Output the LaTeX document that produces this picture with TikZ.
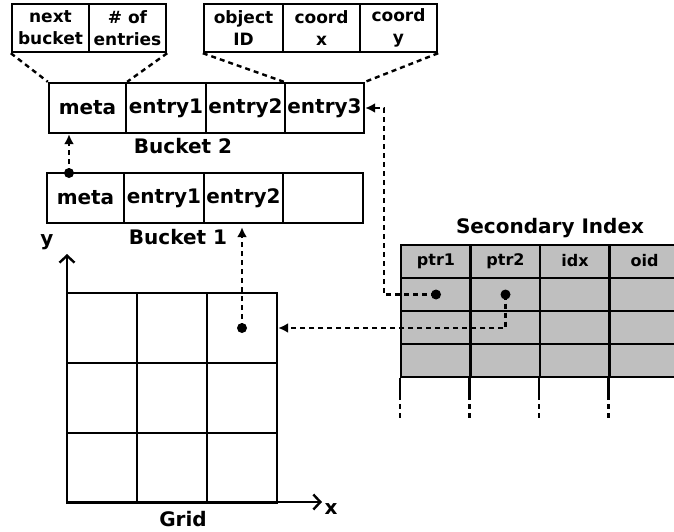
\documentclass[tikz,border=0pt]{standalone}
\usepackage{fontspec}
\setmainfont{DejaVu Sans}
\usetikzlibrary{arrows.meta,calc}
\tikzset{
  big/.style={font=\bfseries\fontsize{20}{22}\selectfont},
  small/.style={font=\bfseries\fontsize{17}{22}\selectfont},
  tsmall/.style={font=\bfseries\fontsize{16}{22}\selectfont},
  cell/.style={draw, line width=2.4pt, inner sep=0pt, big,
    minimum height=50pt},
  hcell/.style={draw, line width=2.4pt, inner sep=0pt, small,
    minimum height=48pt, align=center},
  gcell/.style={draw, line width=2.4pt, minimum width=70pt,
    minimum height=70pt, inner sep=0pt},
  tcell/.style={draw, line width=2.4pt, fill=black!25, minimum width=70pt,
    minimum height=33pt, inner sep=0pt, tsmall},
  link/.style={line width=2.4pt, dash pattern=on 5pt off 4pt,
    -{Latex[length=10pt,width=10pt]}},
  guide/.style={line width=2.4pt, dash pattern=on 5pt off 4pt},
  axis/.style={line width=2.4pt, -{Straight Barb[length=7pt,width=15pt,line width=2.4pt]}},
  dot/.style={fill=black},
}
\begin{document}
\begin{tikzpicture}[x=1pt,y=-1pt]
\useasboundingbox (0,0) rectangle (674,532);
\clip (0,0) rectangle (674,532);

% bucket header fields
\node[hcell, minimum width=77pt] (tl1) at (50.5,28) {next\\bucket};
\node[hcell, minimum width=77pt] (tl2) at (127.5,28) {\# of\\entries};
% entry fields
\node[hcell, minimum width=79pt] (tr1) at (243.5,28) {object\\ID};
\node[hcell, minimum width=77pt] (tr2) at (321.5,28) {coord\\x};
\node[hcell, minimum width=77pt] (tr3) at (398.5,28) {coord\\y};

% Bucket 2
\node[cell, minimum width=77pt] (b2m) at (87.5,108) {meta};
\node[cell, minimum width=80pt] (b2e1) at (166,108) {entry1};
\node[cell, minimum width=79pt] (b2e2) at (245.5,108) {entry2};
\node[cell, minimum width=79pt] (b2e3) at (324.5,108) {entry3};
\node[big] (b2lbl) at (183,146) {Bucket 2};

% Bucket 1
\node[cell, minimum width=77pt] (b1m) at (85.5,198) {meta};
\node[cell, minimum width=80pt] (b1e1) at (164,198) {entry1};
\node[cell, minimum width=79pt] (b1e2) at (243.5,198) {entry2};
\node[cell, minimum width=80pt] (b1e3) at (323,198) {};
\node[big] (b1lbl) at (178,237) {Bucket 1};

% field expansions
\draw[guide] (tl1.south west) -- (b2m.north west);
\draw[guide] (tl2.south east) -- (b2m.north east);
\draw[guide] (tr1.south west) -- (b2e3.north west);
\draw[guide] (tr3.south east) -- (b2e3.north east);

% grid
\foreach \r in {1,2,3}
  \foreach \c in {1,2,3}
    \node[gcell] (g\r\c) at ({32+70*\c},{258+70*\r}) {};
\coordinate (origin) at (67,502);
\coordinate (xend) at (322,502);
\coordinate (yend) at (67,254);
\draw[axis] (origin) -- (xend);
\draw[axis] (origin) -- (yend);
\node[big] (ylbl) at (47,242) {y};
\node[big] (xlbl) at (331,509) {x};
\node[big] (gridlbl) at (183,519) {Grid};

% secondary index
\node[big] (silbl) at (550,228) {Secondary Index};
\foreach \c/\x/\t in {1/436/ptr1,2/505.5/ptr2,3/575/idx,4/644.5/oid}{
  \node[tcell] (h\c) at (\x,261.5) {\raisebox{3pt}{\t}};
  \foreach \r in {1,2,3}
    \node[tcell] (s\r\c) at (\x,{261.5+33*\r}) {};
  \draw[line width=2.4pt] (s3\c.south west) -- ++(0,22);
  \draw[line width=2.4pt, dash pattern=on 5pt off 4pt] ($(s3\c.south west)+(0,26)$) -- ++(0,17);
}

% pointers
\coordinate (turn) at (384,108);
\coordinate (m1) at (69,173);
\draw[link] (s11.center) -| (turn) -- (b2e3.east);
\draw[link] (s12.center) |- (g13.east);
\draw[link, shorten >=3pt] (g13.center) -- (g13.center |- b1e2.south);
\draw[link] (m1) -- (m1 |- b2m.south);
\fill[dot] (s11.center) circle (5pt);
\fill[dot] (s12.center) circle (5pt);
\fill[dot] (g13.center) circle (5pt);
\fill[dot] (m1) circle (5pt);
\end{tikzpicture}
\end{document}
